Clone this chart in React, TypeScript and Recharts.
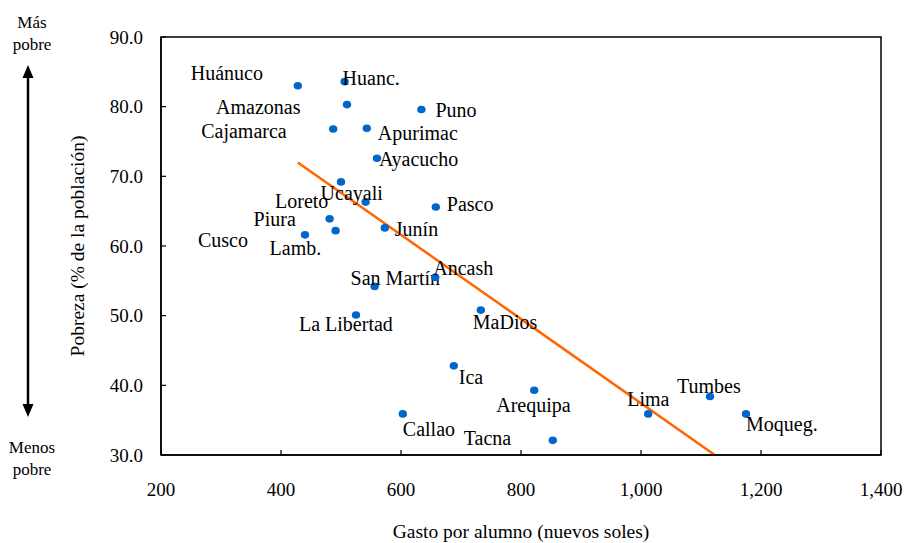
import { ScatterChart, Scatter, XAxis, YAxis, ReferenceLine, ReferenceArea, Label } from 'recharts'

// ─── Data ────────────────────────────────────────────────────────────────────
const REGIONS = [
  'Huánuco', 'Huanc.', 'Amazonas', 'Puno', 'Cajamarca', 'Apurimac', 'Ayacucho',
  'Ucayali', 'Loreto', 'Pasco', 'Piura', 'Lamb.', 'Cusco', 'Junín', 'San Martín',
  'Ancash', 'La Libertad', 'MaDios', 'Ica', 'Arequipa', 'Callao', 'Tacna', 'Lima',
  'Tumbes', 'Moqueg.',
]
const GASTO = [428, 506, 510, 634, 487, 543, 560, 541, 500, 658, 481, 491, 440, 573, 556, 657, 525, 733, 688, 822, 603, 853, 1012, 1115, 1175]
const POBREZA = [83.0, 83.6, 80.3, 79.6, 76.8, 76.9, 72.6, 66.3, 69.2, 65.6, 63.9, 62.2, 61.6, 62.6, 54.2, 55.5, 50.1, 50.8, 42.8, 39.3, 35.9, 32.1, 35.9, 38.4, 35.9]

// fitted trend line, endpoints
const TREND_X = [428, 1123]
const TREND_Y = [72.0, 30.0]

const X_TICKS = [200, 400, 600, 800, 1000, 1200, 1400]
const Y_TICKS = [30, 40, 50, 60, 70, 80, 90]

// ─── Label placement (px from dot: text start, text middle) ──────────────────
const LABEL_OFFSET: Record<string, [number, number]> = {
  'Huánuco': [-107, -13], 'Huanc.': [-2, -4], 'Amazonas': [-131, 2], 'Puno': [14, 1],
  'Cajamarca': [-132, 2], 'Apurimac': [11, 5], 'Ayacucho': [2, 1], 'Ucayali': [-45, -9],
  'Loreto': [-66, 19], 'Pasco': [11, -3], 'Piura': [-76, 0], 'Lamb.': [-66, 17],
  'Cusco': [-107, 5], 'Junín': [10, 1], 'San Martín': [-24, -8], 'Ancash': [-2, -9],
  'La Libertad': [-57, 9], 'MaDios': [-8, 12], 'Ica': [5, 11], 'Arequipa': [-38, 15],
  'Callao': [0, 15], 'Tacna': [-89, -2], 'Lima': [-21, -15], 'Tumbes': [-33, -10],
  'Moqueg.': [0, 10],
}

const FONT = '"Liberation Serif", "Times New Roman", serif'
const DOT = '#0066CC'
const TREND = '#FF6600'

const points = REGIONS.map((name, i) => ({ name, x: GASTO[i], y: POBREZA[i] }))

function LabeledDot(props: { cx?: number; cy?: number; payload?: { name: string } }) {
  const { cx = 0, cy = 0, payload } = props
  const name = payload?.name ?? ''
  const [dx, dy] = LABEL_OFFSET[name] ?? [6, 0]
  return (
    <g>
      <ellipse cx={cx} cy={cy} rx={4.2} ry={3.8} fill={DOT} />
      <text x={cx + dx} y={cy + dy} dominantBaseline="central" fontSize={20} fontFamily={FONT} fill="#000">
        {name}
      </text>
    </g>
  )
}

export default function App() {
  const tick = { fill: '#000', fontSize: 19, fontFamily: FONT }
  return (
    <div style={{ position: 'absolute', left: 0, top: 0, width: 907, height: 543, background: '#fff' }}>
      <ScatterChart width={907} height={543} margin={{ top: 37, right: 26, bottom: 0, left: 0 }}>
        <XAxis
          type="number" dataKey="x" domain={[200, 1400]} ticks={X_TICKS}
          tickFormatter={(v: number) => v.toLocaleString('en-US')}
          tick={tick} tickSize={-5} tickMargin={33} height={88}
          axisLine={{ stroke: '#000', strokeWidth: 1.5 }} tickLine={{ stroke: '#000', strokeWidth: 1.2 }}
        >
          <Label value="Gasto por alumno (nuevos soles)" position="insideBottom" offset={5}
            style={{ fill: '#000', fontSize: 19.5, fontFamily: FONT }} />
        </XAxis>
        <YAxis
          type="number" dataKey="y" domain={[30, 90]} ticks={Y_TICKS}
          tickFormatter={(v: number) => v.toFixed(1)}
          tick={tick} tickSize={-5} tickMargin={23} width={161}
          axisLine={{ stroke: '#000', strokeWidth: 1.5 }} tickLine={{ stroke: '#000', strokeWidth: 1.2 }}
        >
          <Label value="Pobreza (% de la población)" angle={-90} position="insideLeft" offset={77}
            style={{ fill: '#000', fontSize: 19.5, fontFamily: FONT, textAnchor: 'middle' }} />
        </YAxis>
        <ReferenceArea x1={200} x2={1400} y1={30} y2={90} fill="none" stroke="#000" strokeWidth={1.5} />
        <ReferenceLine
          segment={[{ x: TREND_X[0], y: TREND_Y[0] }, { x: TREND_X[1], y: TREND_Y[1] }]}
          stroke={TREND} strokeWidth={2.5}
        />
        <Scatter data={points} shape={(p: any) => <LabeledDot {...p} />} isAnimationActive={false} />
      </ScatterChart>

      {/* left-side annotation: poorer / less poor arrow */}
      <svg width={70} height={543} style={{ position: 'absolute', left: 0, top: 0 }}>
        <text x={32} y={22} textAnchor="middle" dominantBaseline="central" fontSize={17} fontFamily={FONT}>Más</text>
        <text x={32} y={44} textAnchor="middle" dominantBaseline="central" fontSize={17} fontFamily={FONT}>pobre</text>
        <line x1={28} y1={76} x2={28} y2={406} stroke="#000" strokeWidth={2.5} />
        <path d="M28,65 L22.5,78 L33.5,78 Z" fill="#000" />
        <path d="M28,417 L22.5,404 L33.5,404 Z" fill="#000" />
        <text x={32} y={447} textAnchor="middle" dominantBaseline="central" fontSize={17} fontFamily={FONT}>Menos</text>
        <text x={32} y={469} textAnchor="middle" dominantBaseline="central" fontSize={17} fontFamily={FONT}>pobre</text>
      </svg>
    </div>
  )
}
